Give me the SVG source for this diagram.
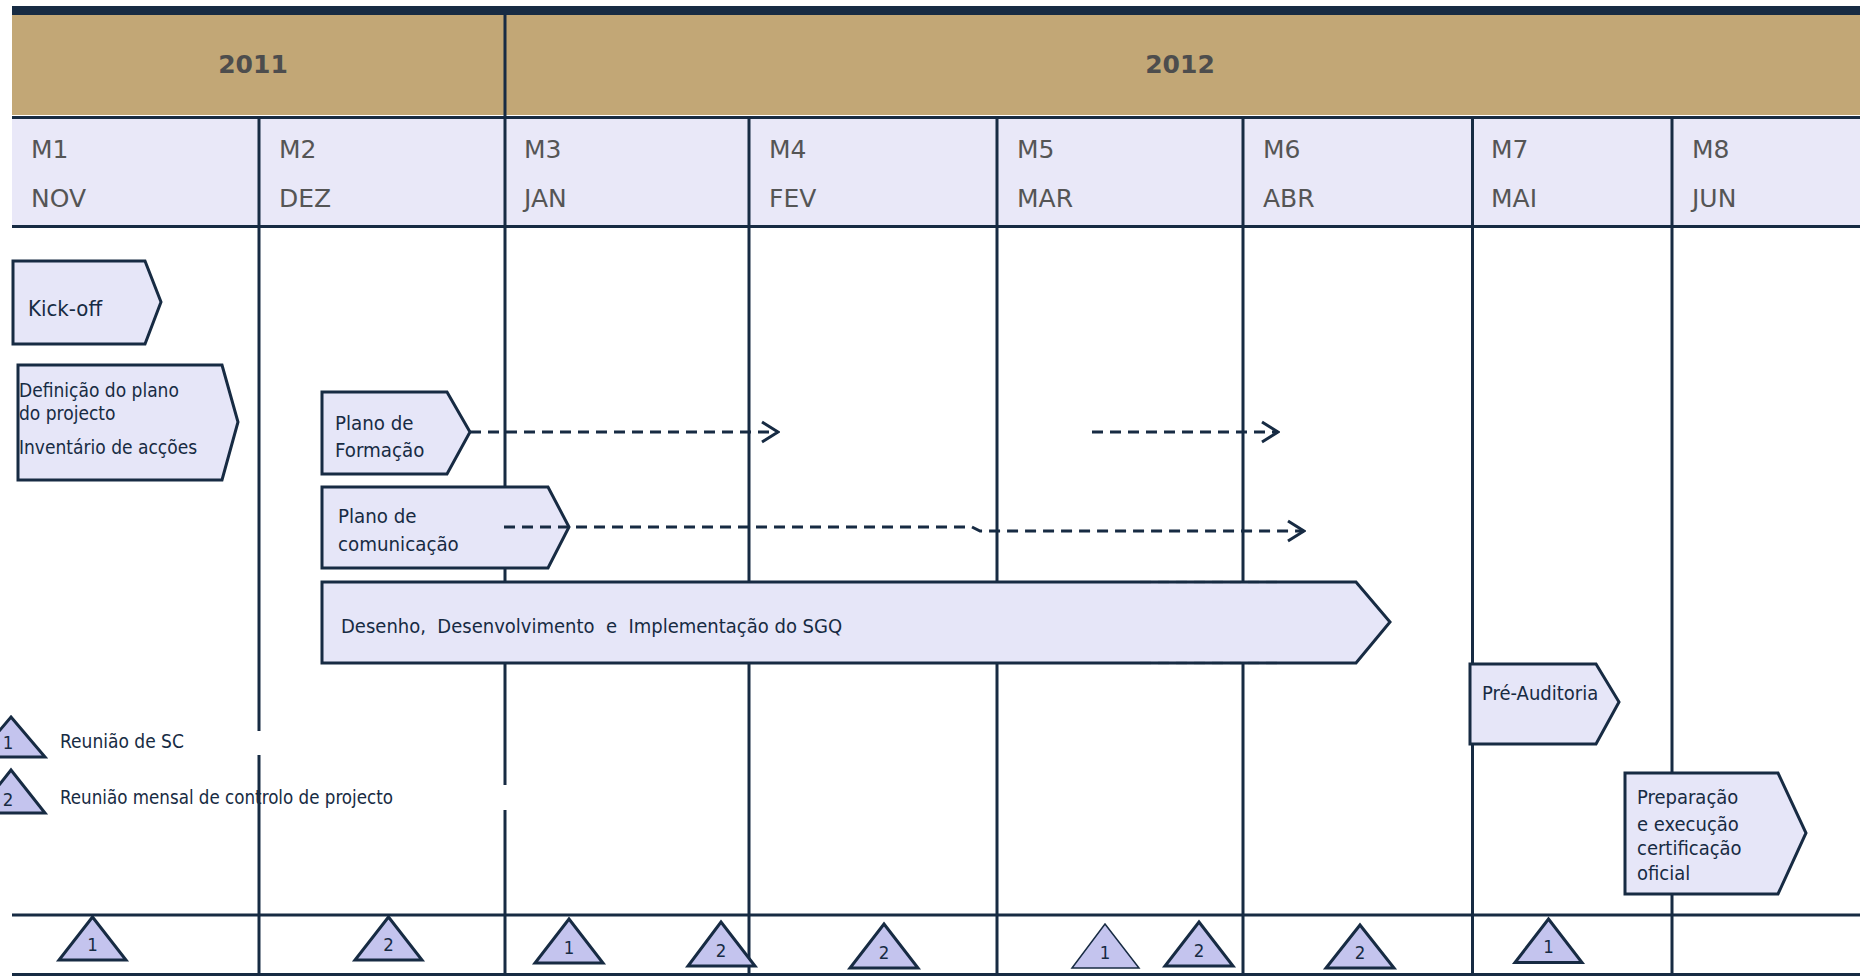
<svg xmlns="http://www.w3.org/2000/svg" width="1865" height="976" viewBox="0 0 1865 976">
<style>
.bg{fill:#ffffff}
.ln{stroke:#172b43;stroke-width:3;fill:none}
.box{fill:#e6e6f8;stroke:#172b43;stroke-width:3;stroke-linejoin:miter}
.tri{fill:#c4c4ee;stroke:#172b43;stroke-width:3;stroke-linejoin:miter}
.tri-thin{fill:#c4c4ee;stroke:#172b43;stroke-width:1.5}
.yr{font-family:"DejaVu Sans",Verdana,sans-serif;font-weight:bold;font-size:25px;fill:#4d4d4d;text-anchor:middle}
.mo{font-family:"DejaVu Sans",Verdana,sans-serif;font-size:25px;fill:#555555}
.t{font-family:"DejaVu Sans Condensed","DejaVu Sans",sans-serif;font-stretch:condensed;fill:#172b43}
.num{font-family:"DejaVu Sans Condensed","DejaVu Sans",sans-serif;font-stretch:condensed;font-size:18.5px;fill:#172b43;text-anchor:middle}
.dash{stroke:#172b43;stroke-width:3;fill:none;stroke-dasharray:11 7}
.faint{stroke:#172b43;stroke-width:3;fill:none;stroke-dasharray:11 7;opacity:0.18}
</style>
<defs>
<marker id="arr" viewBox="-20 -12 22 24" markerWidth="22" markerHeight="24" markerUnits="userSpaceOnUse" refX="0" refY="0" orient="auto">
<path d="M-16,-10 L0,0 L-16,10" fill="none" stroke="#172b43" stroke-width="3"/>
</marker>
</defs>
<rect class="bg" x="0" y="0" width="1865" height="976"/>
<g id="header">
<rect x="12" y="6" width="1848" height="9" fill="#172b43"/>
<rect x="12" y="15" width="1848" height="100" fill="#c2a776"/>
<rect x="12" y="118" width="1848" height="108" fill="#e9e8f8"/>
<line class="ln" x1="12" y1="117.5" x2="1860" y2="117.5"/>
<line class="ln" x1="12" y1="226.5" x2="1860" y2="226.5"/>
<text class="yr" x="253" y="73">2011</text>
<text class="yr" x="1180" y="73">2012</text>
<text class="mo" x="31" y="158">M1</text><text class="mo" x="31" y="207">NOV</text>
<text class="mo" x="279" y="158">M2</text><text class="mo" x="279" y="207">DEZ</text>
<text class="mo" x="524" y="158">M3</text><text class="mo" x="524" y="207">JAN</text>
<text class="mo" x="769" y="158">M4</text><text class="mo" x="769" y="207">FEV</text>
<text class="mo" x="1017" y="158">M5</text><text class="mo" x="1017" y="207">MAR</text>
<text class="mo" x="1263" y="158">M6</text><text class="mo" x="1263" y="207">ABR</text>
<text class="mo" x="1491" y="158">M7</text><text class="mo" x="1491" y="207">MAI</text>
<text class="mo" x="1692" y="158">M8</text><text class="mo" x="1692" y="207">JUN</text>
</g>
<g id="grid">
<line class="ln" x1="259" y1="116" x2="259" y2="731"/>
<line class="ln" x1="259" y1="755" x2="259" y2="976"/>
<line class="ln" x1="505" y1="15" x2="505" y2="785"/>
<line class="ln" x1="505" y1="810" x2="505" y2="976"/>
<line class="ln" x1="749" y1="116" x2="749" y2="976"/>
<line class="ln" x1="997" y1="116" x2="997" y2="976"/>
<line class="ln" x1="1243" y1="116" x2="1243" y2="976"/>
<line class="ln" x1="1472.5" y1="116" x2="1472.5" y2="976"/>
<line class="ln" x1="1672" y1="116" x2="1672" y2="976"/>
<line class="ln" x1="12" y1="915" x2="1860" y2="915"/>
<line class="ln" x1="12" y1="974.5" x2="1860" y2="974.5"/>
</g>
<g id="kickoff">
<path class="box" d="M13,261 H145 L161,302 L145,344 H13 Z"/>
<text class="t" font-size="22" x="28" y="316">Kick-off</text>
</g>
<g id="definicao">
<path class="box" d="M18,365 H222 L238,422 L222,480 H18 Z"/>
<text class="t" font-size="19" x="19" y="397">Definição do plano</text>
<text class="t" font-size="19" x="19" y="420">do projecto</text>
<text class="t" font-size="19" x="19" y="454">Inventário de acções</text>
</g>
<g id="plano-formacao">
<path class="box" d="M322,392 H447 L470,432 L447,474 H322 Z"/>
<text class="t" font-size="20.3" x="335" y="430">Plano  de</text>
<text class="t" font-size="20.3" x="335" y="457">Formação</text>
</g>
<g id="plano-comunicacao">
<path class="box" d="M322,487 H548 L569,527 L548,568 H322 Z"/>
<text class="t" font-size="20.3" x="338" y="523">Plano  de</text>
<text class="t" font-size="20.3" x="338" y="551">comunicação</text>
</g>
<g id="desenho">
<path class="box" d="M322,582 H1356 L1390,622 L1356,663 H322 Z"/>
<text class="t" font-size="20" x="341" y="633" xml:space="preserve">Desenho,  Desenvolvimento  e  Implementação do SGQ</text>
</g>
<g id="pre-auditoria">
<path class="box" d="M1470,664 H1596 L1619,702 L1596,744 H1470 Z"/>
<text class="t" font-size="20" x="1482" y="700">Pré-Auditoria</text>
</g>
<g id="certificacao">
<path class="box" d="M1625,773 H1778 L1806,833 L1778,894 H1625 Z"/>
<text class="t" font-size="20" x="1637" y="804">Preparação</text>
<text class="t" font-size="20" x="1637" y="831">e execução</text>
<text class="t" font-size="20" x="1637" y="855">certificação</text>
<text class="t" font-size="20" x="1637" y="880">oficial</text>
</g>
<g id="legend">
<path class="tri" d="M11,717 L45,757 L-23,757 Z"/>
<text class="num" x="8" y="749">1</text>
<text class="t" font-size="19" x="60" y="748">Reunião de SC</text>
<path class="tri" d="M11,770 L45,813 L-23,813 Z"/>
<text class="num" x="8" y="806">2</text>
<text class="t" font-size="18.6" x="60" y="804">Reunião mensal de controlo de projecto</text>
</g>
<g id="milestones">
<g id="m1"><path class="tri" d="M92.5,917 L126,960 L59,960 Z"/><text class="num" x="92.5" y="951">1</text></g>
<g id="m2"><path class="tri" d="M388.5,917 L422,960 L355,960 Z"/><text class="num" x="388.5" y="951">2</text></g>
<g id="m3"><path class="tri" d="M569,919 L603,963 L535,963 Z"/><text class="num" x="569" y="954">1</text></g>
<g id="m4"><path class="tri" d="M721,922 L755,966 L688,966 Z"/><text class="num" x="721" y="957">2</text></g>
<g id="m5"><path class="tri" d="M884,924 L918,968 L850,968 Z"/><text class="num" x="884" y="959">2</text></g>
<g id="m6"><path class="tri-thin" d="M1105,924 L1139,968 L1072,968 Z"/><text class="num" x="1105" y="959">1</text></g>
<g id="m7"><path class="tri" d="M1199,922 L1233,966 L1165,966 Z"/><text class="num" x="1199" y="957">2</text></g>
<g id="m8"><path class="tri" d="M1360,925 L1394,968 L1326,968 Z"/><text class="num" x="1360" y="959">2</text></g>
<g id="m9"><path class="tri" d="M1548.5,919 L1582,962.5 L1515,962.5 Z"/><text class="num" x="1548.5" y="953">1</text></g>
</g>
<g id="connectors">
<path class="dash" d="M470,432 H778" marker-end="url(#arr)"/>
<path class="dash" d="M1092,432 H1278" marker-end="url(#arr)"/>
<path class="dash" d="M504,527 H972 L980,531 H1304" marker-end="url(#arr)"/>
<path class="faint" d="M1140,582 H1280"/>
<path class="faint" d="M1140,663 H1280"/>
</g>
</svg>
